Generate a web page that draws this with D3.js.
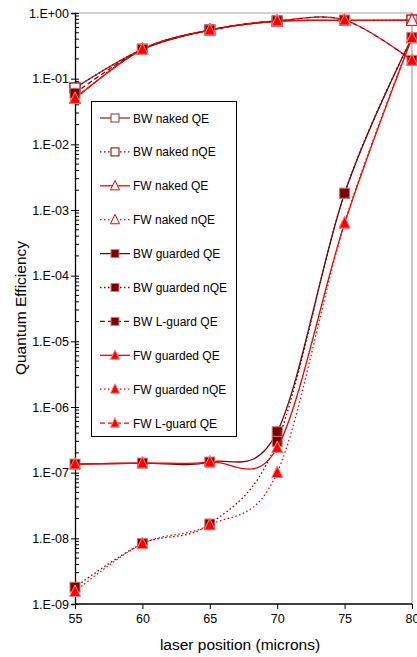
<!DOCTYPE html>
<html>
<head>
<meta charset="utf-8">
<script src="https://cdn.jsdelivr.net/npm/d3@7/dist/d3.min.js"></script>
<style>
  html, body { margin: 0; padding: 0; background: #fff; }
  svg { display: block; font-family: "Liberation Sans", Arial, sans-serif; }
</style>
</head>
<body>
<svg id="chart" width="417" height="657"></svg>
<script>
// Laser position scan (microns)
const positions = [55, 60, 65, 70, 75, 80];

// Quantum efficiency per detector configuration
const bwNakedQE    = [0.072, 0.28, 0.55, 0.75, 0.77, 0.78];
const bwNakedNQE   = [0.072, 0.28, 0.55, 0.75, 0.77, 0.78];
const fwNakedQE    = [0.05, 0.28, 0.55, 0.75, 0.77, 0.77];
const fwNakedNQE   = [0.05, 0.28, 0.55, 0.75, 0.77, 0.77];
const bwGuardedQE  = [1.35e-7, 1.4e-7, 1.45e-7, 4.2e-7, 1.8e-3, 0.42];
const bwGuardedNQE = [1.8e-9, 8.3e-9, 1.65e-8, 3.0e-7, 1.8e-3, 0.42];
const bwLguardQE   = [0.06, 0.28, 0.55, 0.76, 0.78, 0.19];
const fwGuardedQE  = [1.35e-7, 1.4e-7, 1.45e-7, 2.4e-7, 6.3e-4, 0.42];
const fwGuardedNQE = [1.55e-9, 8.3e-9, 1.6e-8, 1.0e-7, 6.3e-4, 0.42];
const fwLguardQE   = [0.05, 0.28, 0.55, 0.76, 0.78, 0.19];

// Axis tick labels
const xTickValues = [55, 60, 65, 70, 75, 80];
const yTickValues = [1, 1e-1, 1e-2, 1e-3, 1e-4, 1e-5, 1e-6, 1e-7, 1e-8, 1e-9];
const yTickLabels = ["1.E+00", "1.E-01", "1.E-02", "1.E-03", "1.E-04",
                     "1.E-05", "1.E-06", "1.E-07", "1.E-08", "1.E-09"];

const seriesNames = ["BW naked QE", "BW naked nQE", "FW naked QE", "FW naked nQE",
  "BW guarded QE", "BW guarded nQE", "BW L-guard QE",
  "FW guarded QE", "FW guarded nQE", "FW L-guard QE"];
const seriesValues = [bwNakedQE, bwNakedNQE, fwNakedQE, fwNakedNQE,
  bwGuardedQE, bwGuardedNQE, bwLguardQE, fwGuardedQE, fwGuardedNQE, fwLguardQE];

const MAROON = "#800000", NAKED = "#9a3030", RED = "#ff0000";
const DOT = "1.5,2.5", DASH = "5,3";
const styles = [
  { color: NAKED,  dash: null, marker: "square",   fill: "#fff", width: 1.3 },
  { color: MAROON, dash: DOT,  marker: "square",   fill: "#fff", width: 1.3 },
  { color: RED,    dash: null, marker: "triangle", fill: "#fff", width: 1.3 },
  { color: RED,    dash: DOT,  marker: "triangle", fill: "#fff", width: 1.3 },
  { color: MAROON, dash: null, marker: "square",   fill: MAROON, width: 1.3 },
  { color: MAROON, dash: DOT,  marker: "square",   fill: MAROON, width: 1.3 },
  { color: MAROON, dash: DASH, marker: "square",   fill: MAROON, width: 1.3 },
  { color: RED,    dash: null, marker: "triangle", fill: RED,    width: 1.3 },
  { color: RED,    dash: DOT,  marker: "triangle", fill: RED,    width: 1.3 },
  { color: RED,    dash: DASH, marker: "triangle", fill: RED,    width: 1.3 }
];

const svg = d3.select("#chart");
const plot = { left: 75, right: 412, top: 13, bottom: 604 };

const x = d3.scaleLinear().domain([55, 80]).range([plot.left, plot.right]);
const y = d3.scaleLog().domain([1e-9, 1]).range([plot.bottom, plot.top]);

// Plot frame (top and right edges)
svg.append("path")
  .attr("d", `M${plot.left},${plot.top}H${plot.right}V${plot.bottom}`)
  .attr("fill", "none").attr("stroke", "#a6a6a6").attr("stroke-width", 1.2);

// Y axis: major ticks crossing the axis, minor ticks inside
const yAxis = d3.axisLeft(y)
  .tickValues(yTickValues)
  .tickSize(4)
  .tickFormat((d, i) => yTickLabels[i]);
const gy = svg.append("g").attr("transform", `translate(${plot.left},0)`).call(yAxis);
gy.select(".domain").attr("stroke", "#000").attr("stroke-width", 1.3);
gy.selectAll(".tick line").attr("x1", 4).attr("x2", -4).attr("stroke", "#000");
gy.selectAll(".tick text").attr("x", -6).attr("font-size", "12.5px")
  .attr("font-family", "Liberation Sans, Arial, sans-serif").attr("fill", "#000");

const minorTicks = [];
for (let e = -9; e < 0; e++) {
  for (let m = 2; m <= 9; m++) minorTicks.push(m * Math.pow(10, e));
}
gy.selectAll(".minor").data(minorTicks).enter().append("line")
  .attr("class", "minor")
  .attr("x1", 0).attr("x2", 4)
  .attr("y1", d => y(d)).attr("y2", d => y(d))
  .attr("stroke", "#000").attr("stroke-width", 1);

// X axis
const xAxis = d3.axisBottom(x).tickValues(xTickValues).tickSize(5).tickFormat(d3.format("d"));
const gx = svg.append("g").attr("transform", `translate(0,${plot.bottom})`).call(xAxis);
gx.select(".domain").attr("stroke", "#000").attr("stroke-width", 1.3)
  .attr("d", `M${plot.left},0H${plot.right}`);
gx.selectAll(".tick line").attr("stroke", "#000");
gx.selectAll(".tick text").attr("y", 10).attr("font-size", "12.5px")
  .attr("font-family", "Liberation Sans, Arial, sans-serif").attr("fill", "#000");

// Axis titles
svg.append("text")
  .attr("x", 240).attr("y", 650)
  .attr("text-anchor", "middle").attr("font-size", "15.5px")
  .text("laser position (microns)");
svg.append("text")
  .attr("transform", "translate(26,308) rotate(-90)")
  .attr("text-anchor", "middle").attr("font-size", "15.5px")
  .text("Quantum Efficiency");

// Marker shapes
function drawMarker(g, style, cx, cy, size) {
  if (style.marker === "square") {
    g.append("rect")
      .attr("x", cx - size / 2).attr("y", cy - size / 2)
      .attr("width", size).attr("height", size)
      .attr("fill", style.fill)
      .attr("stroke", style.fill === "#fff" ? style.color : "#c08080")
      .attr("stroke-width", 1);
  } else {
    const h = size * 1.0;
    g.append("path")
      .attr("d", `M${cx},${cy - h * 0.6}L${cx + size / 2},${cy + h * 0.45}L${cx - size / 2},${cy + h * 0.45}Z`)
      .attr("fill", style.fill)
      .attr("stroke", style.fill === "#fff" ? style.color : "#ff8080")
      .attr("stroke-width", 1);
  }
}

const line = d3.line()
  .x(d => x(d[0])).y(d => y(d[1]))
  .curve(d3.curveCardinal.tension(0));

const seriesG = svg.append("g");
seriesValues.forEach((vals, i) => {
  const st = styles[i];
  const pts = positions.map((p, j) => [p, vals[j]]);
  const g = seriesG.append("g");
  g.append("path")
    .attr("d", line(pts))
    .attr("fill", "none")
    .attr("stroke", st.color)
    .attr("stroke-width", st.width)
    .attr("stroke-dasharray", st.dash);
  pts.forEach(pt => drawMarker(g, st, x(pt[0]), y(pt[1]), st.marker === "square" ? 10 : 11));
});

// Legend
const legend = svg.append("g");
legend.append("rect")
  .attr("x", 91.5).attr("y", 101.5).attr("width", 145).attr("height", 335)
  .attr("fill", "#fff").attr("stroke", "#000").attr("stroke-width", 1);
seriesNames.forEach((name, i) => {
  const st = styles[i];
  const ly = 118 + i * 33.9;
  const g = legend.append("g");
  g.append("line")
    .attr("x1", 100).attr("x2", 130).attr("y1", ly).attr("y2", ly)
    .attr("stroke", st.color).attr("stroke-width", st.width)
    .attr("stroke-dasharray", st.dash);
  drawMarker(g, st, 115, ly, st.marker === "square" ? 8 : 9);
  g.append("text")
    .attr("x", 133).attr("y", ly + 4.5)
    .attr("font-size", "12px")
    .text(name);
});
</script>
</body>
</html>
